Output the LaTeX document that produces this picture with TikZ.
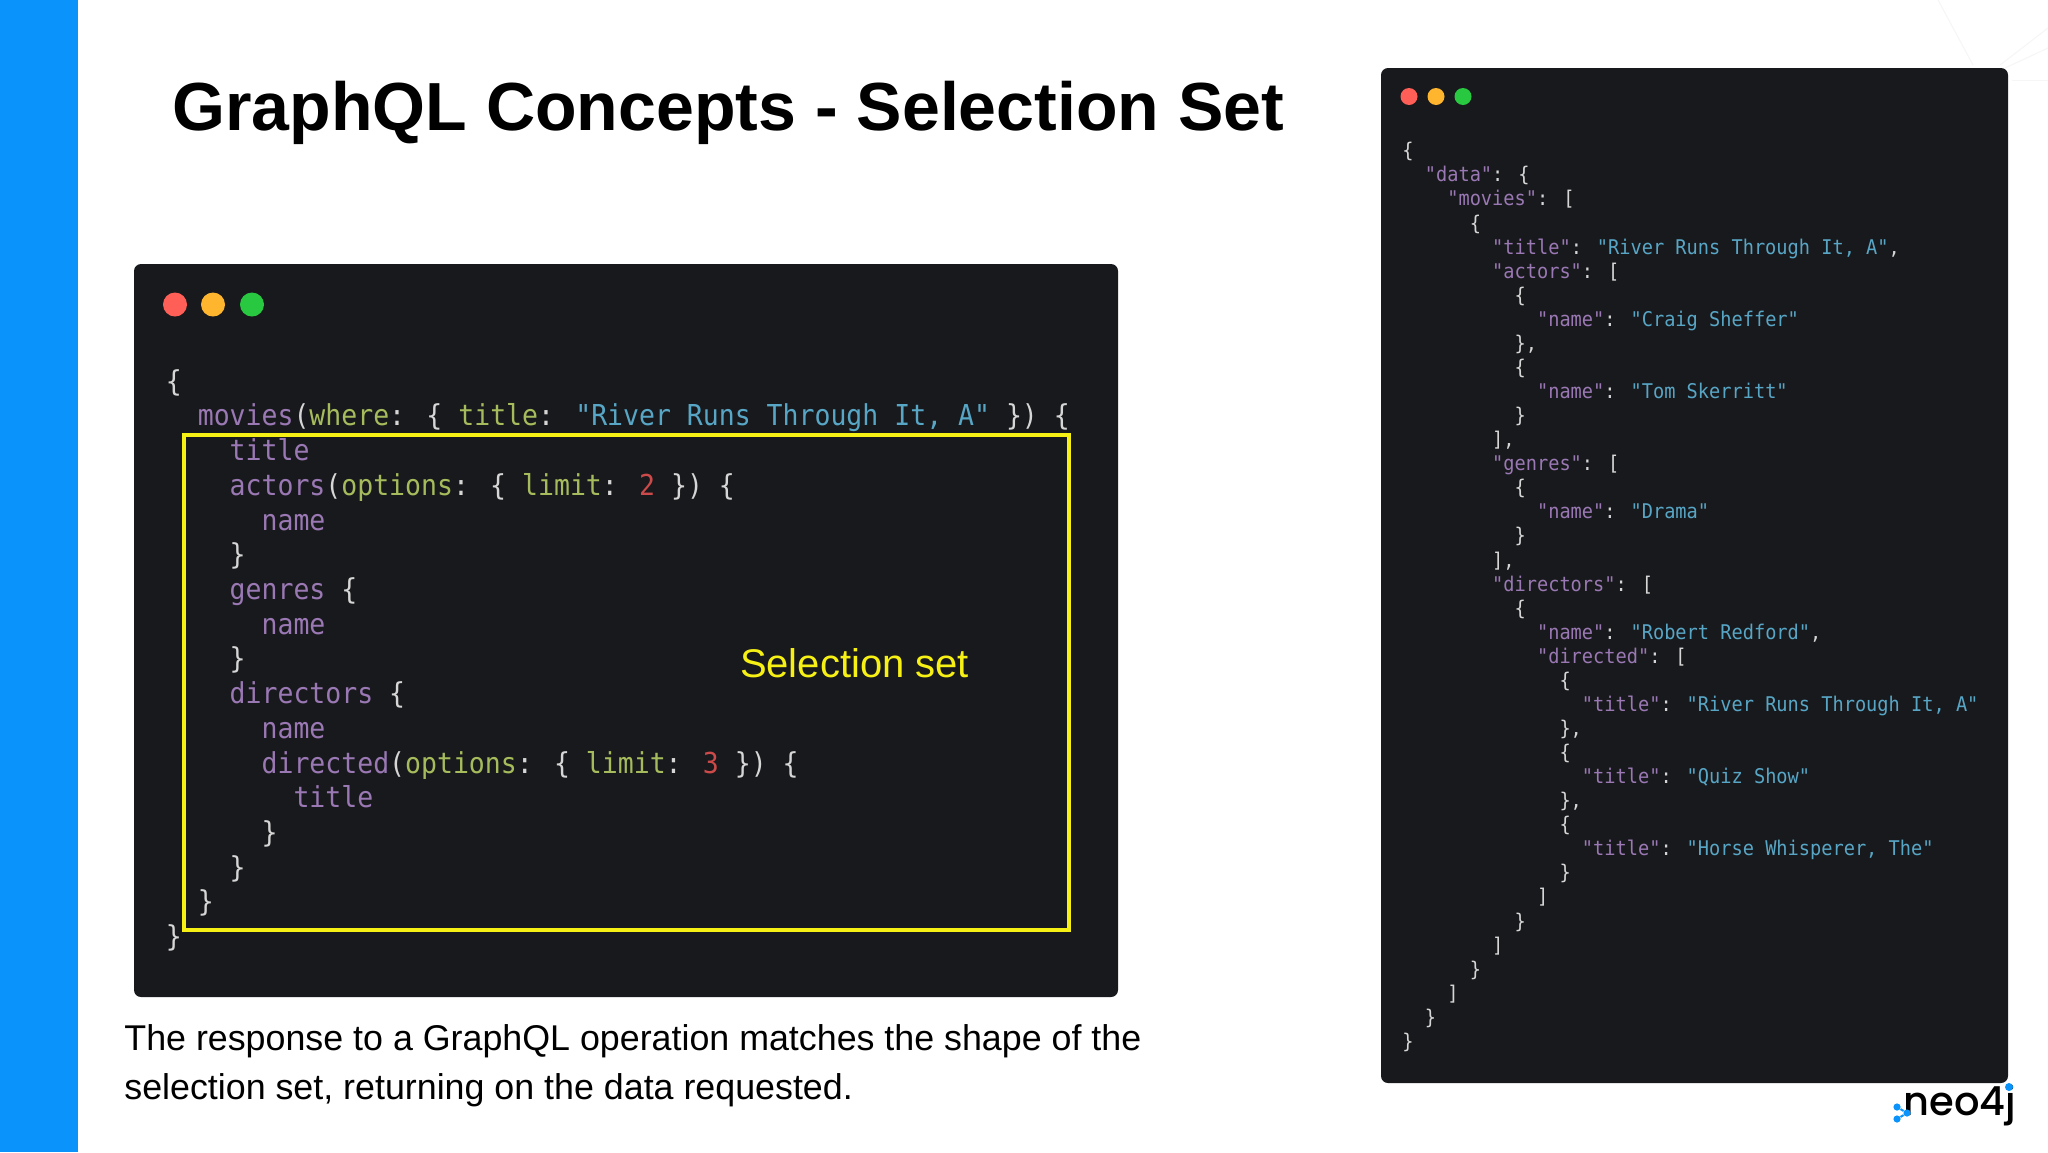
\documentclass[tikz,border=0pt]{standalone}
\usepackage{fontspec}
\usepackage{xcolor}
\setmainfont{Liberation Sans}
\newfontfamily\codefont[FakeStretch=0.92]{DejaVu Sans Mono}
\newfontfamily\logofont{Poppins Medium}
\usetikzlibrary{positioning,calc}
\definecolor{barblue}{HTML}{0A93FB}
\definecolor{panelbg}{HTML}{18191C}
\definecolor{codewhite}{HTML}{D6D6D6}
\definecolor{codepurple}{HTML}{9A78B4}
\definecolor{codegreen}{HTML}{A6BC5C}
\definecolor{codeblue}{HTML}{58A6C6}
\definecolor{codered}{HTML}{CC4A4A}
\definecolor{selyellow}{HTML}{F6F014}
\definecolor{faintline}{HTML}{F6F6F6}
\newcommand{\fld}[1]{\textcolor{codepurple}{#1}}
\newcommand{\argn}[1]{\textcolor{codegreen}{#1}}
\newcommand{\strv}[1]{\textcolor{codeblue}{#1}}
\newcommand{\numv}[1]{\textcolor{codered}{#1}}
\newcommand{\pad}[1]{\hspace*{#1\fontcharwd\font`x}}
\tikzset{
    panel/.style={fill=panelbg, rounded corners=7pt/2, inner sep=0pt},
    code/.style={text=codewhite, inner sep=0pt, anchor=north west, align=left},
    dot/.style={circle, inner sep=0pt},
    logodot/.style={dot, fill=barblue, minimum size=3.6pt}
}

\begin{document}
\begin{tikzpicture}[x=0.5pt,y=-0.5pt]
    \useasboundingbox (0,0) rectangle (2048,1152);
    \fill[white] (0,0) rectangle (2048,1152);

    % Faint background lines
    \draw[faintline, line width=0.5pt] (1938,0) -- (1973,65);
    \draw[faintline, line width=0.5pt] (2048,28) -- (2000,65);
    \draw[faintline, line width=0.5pt] (2048,48) -- (2005,68);
    \draw[faintline, line width=0.5pt] (2012,80) -- (2048,80);

    % Side bar and title
    \fill[barblue] (0,0) rectangle (78,1152);
    \node[anchor=base west, inner sep=0pt, font=\bfseries\fontsize{34.03}{40}\selectfont] (title) at (172,130) {GraphQL Concepts - Selection Set};

    % Panels
    \node[panel, minimum width=492pt, minimum height=366.5pt] (querypanel) at (626,630.5) {};
    \node[panel, minimum width=313.5pt, minimum height=507.5pt] (resultpanel) at (1694.5,575.5) {};

    % Window buttons
    \foreach \x/\c/\n in {175/FF5F57/a,213/FFB52E/b,252/28C840/c}{
        \definecolor{btn}{HTML}{\c}
        \node[dot, fill=btn, minimum size=12pt] (querybtn\n) at (\x,304.5) {};
    }
    \foreach \x/\c/\n in {1409/FF5F57/a,1436/FFB52E/b,1463/28C840/c}{
        \definecolor{btn}{HTML}{\c}
        \node[dot, fill=btn, minimum size=8.5pt] (resultbtn\n) at (\x,96.5) {};
    }

    % Query
    \node[code, font=\codefont\fontsize{14.4}{17.35}\selectfont] (querycode) at (165.5,369) {%
        \{\\
        \pad{2}\fld{movies}(\argn{where}: \{ \argn{title}: \strv{"River Runs Through It, A"} \}) \{\\
        \pad{4}\fld{title}\\
        \pad{4}\fld{actors}(\argn{options}: \{ \argn{limit}: \numv{2} \}) \{\\
        \pad{6}\fld{name}\\
        \pad{4}\}\\
        \pad{4}\fld{genres} \{\\
        \pad{6}\fld{name}\\
        \pad{4}\}\\
        \pad{4}\fld{directors} \{\\
        \pad{6}\fld{name}\\
        \pad{6}\fld{directed}(\argn{options}: \{ \argn{limit}: \numv{3} \}) \{\\
        \pad{8}\fld{title}\\
        \pad{6}\}\\
        \pad{4}\}\\
        \pad{2}\}\\
        \}};

    % Selection set
    \node[draw=selyellow, line width=2pt, inner sep=0pt, minimum width=442.5pt, minimum height=247.5pt] (selbox) at (626.5,682.5) {};
    \node[text=selyellow, inner sep=0pt, font=\fontsize{20}{24}\selectfont] (sellabel) at (854.5,663) {Selection set};

    % Response
    \node[code, font=\codefont\fontsize{10.13}{12.035}\selectfont] (resultcode) at (1402,142) {%
        \{\\
        \pad{2}\fld{"data"}: \{\\
        \pad{4}\fld{"movies"}: [\\
        \pad{6}\{\\
        \pad{8}\fld{"title"}: \strv{"River Runs Through It, A"},\\
        \pad{8}\fld{"actors"}: [\\
        \pad{10}\{\\
        \pad{12}\fld{"name"}: \strv{"Craig Sheffer"}\\
        \pad{10}\},\\
        \pad{10}\{\\
        \pad{12}\fld{"name"}: \strv{"Tom Skerritt"}\\
        \pad{10}\}\\
        \pad{8}],\\
        \pad{8}\fld{"genres"}: [\\
        \pad{10}\{\\
        \pad{12}\fld{"name"}: \strv{"Drama"}\\
        \pad{10}\}\\
        \pad{8}],\\
        \pad{8}\fld{"directors"}: [\\
        \pad{10}\{\\
        \pad{12}\fld{"name"}: \strv{"Robert Redford"},\\
        \pad{12}\fld{"directed"}: [\\
        \pad{14}\{\\
        \pad{16}\fld{"title"}: \strv{"River Runs Through It, A"}\\
        \pad{14}\},\\
        \pad{14}\{\\
        \pad{16}\fld{"title"}: \strv{"Quiz Show"}\\
        \pad{14}\},\\
        \pad{14}\{\\
        \pad{16}\fld{"title"}: \strv{"Horse Whisperer, The"}\\
        \pad{14}\}\\
        \pad{12}]\\
        \pad{10}\}\\
        \pad{8}]\\
        \pad{6}\}\\
        \pad{4}]\\
        \pad{2}\}\\
        \}};

    % Caption
    \node[anchor=north west, inner sep=0pt, align=left, font=\fontsize{17.9}{24.8}\selectfont] (caption) at (124,1024) {The response to a GraphQL operation matches the shape of the\\selection set, returning on the data requested.};

    % Logo
    \node[anchor=base west, inner sep=0pt, font=\logofont\fontsize{20}{24}\selectfont] (logotext) at (1903,1115) {neo4j};
    \node[logodot] (logoa) at (1897,1107) {};
    \node[logodot] (logob) at (1907,1113) {};
    \node[logodot] (logoc) at (1897,1119) {};
    \node[logodot, minimum size=4pt] (logod) at (2009,1087) {};
    \draw[barblue, line width=1pt] (logoa) -- (logob) -- (logoc);
\end{tikzpicture}
\end{document}
